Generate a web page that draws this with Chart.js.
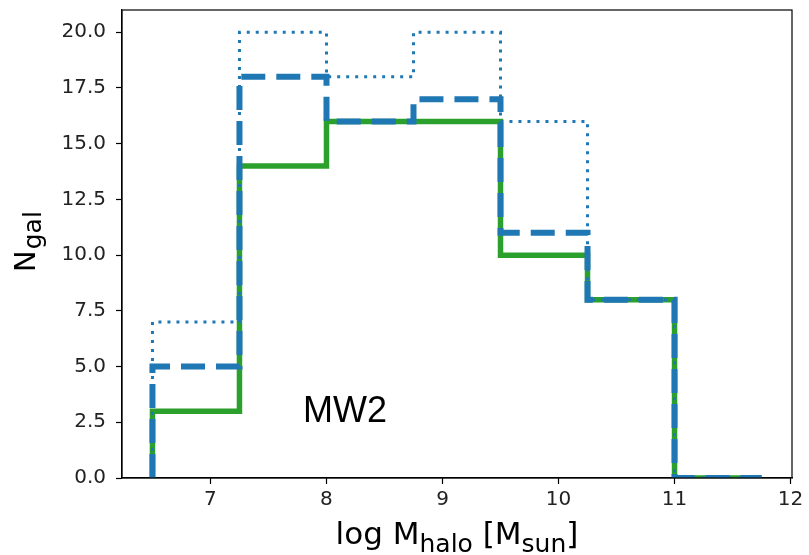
<!DOCTYPE html>
<html>
<head>
<meta charset="utf-8">
<script src="https://cdn.jsdelivr.net/npm/chart.js@4"></script>
<style>
  html, body { margin: 0; padding: 0; background: #fff; }
  #wrap { width: 809px; height: 555px; }
</style>
</head>
<body>
<div id="wrap"><canvas id="histChart" width="809" height="555"></canvas></div>
<script>
// bin edges of the histogram (log M_halo)
const binEdges = [6.5, 7.25, 8.0, 8.75, 9.5, 10.25, 11.0, 11.75];

// counts per bin
const solidCounts  = [3, 14, 16, 16, 10, 8, 0];
const dashedCounts = [5, 18, 16, 17, 11, 8, 0];
const dottedCounts = [7, 20, 18, 20, 16, 8, 0];

// axis ticks
const xTicks = [7, 8, 9, 10, 11, 12];
const yTicks = [0, 2.5, 5, 7.5, 10, 12.5, 15, 17.5, 20];

const panelLabel = 'MW2';

// turn bin edges + counts into a step outline like histtype='step'
function stepPoints(counts) {
    const pts = [{ x: binEdges[0], y: 0 }];
    counts.forEach((c, i) => {
        pts.push({ x: binEdges[i], y: c });
        pts.push({ x: binEdges[i + 1], y: c });
    });
    pts.push({ x: binEdges[binEdges.length - 1], y: 0 });
    return pts;
}

// frame + text labels (subscripts need manual drawing)
const extrasPlugin = {
    id: 'extras',
    afterDraw(chart) {
        const { ctx, chartArea } = chart;
        ctx.save();
        // full spine box
        ctx.strokeStyle = '#000';
        ctx.lineWidth = 1.2;
        ctx.strokeRect(chartArea.left, chartArea.top,
            chartArea.right - chartArea.left, chartArea.bottom - chartArea.top);

        ctx.fillStyle = '#000';
        ctx.textBaseline = 'alphabetic';
        ctx.textAlign = 'left';

        // panel label
        ctx.font = '36px "Liberation Sans", Arial, sans-serif';
        ctx.fillText(panelLabel, 303, 422);

        // x axis title: log M_halo [M_sun]
        const big = '31px "DejaVu Sans"';
        const small = '25px "DejaVu Sans"';
        const parts = [
            { t: 'log M', f: big, dy: 0 },
            { t: 'halo', f: small, dy: 8 },
            { t: ' [M', f: big, dy: 0 },
            { t: 'sun', f: small, dy: 8 },
            { t: ']', f: big, dy: 0 }
        ];
        let total = 0;
        parts.forEach(p => { ctx.font = p.f; total += ctx.measureText(p.t).width; });
        let x = (chartArea.left + chartArea.right) / 2 - total / 2;
        parts.forEach(p => {
            ctx.font = p.f;
            ctx.fillText(p.t, x, 544 + p.dy);
            x += ctx.measureText(p.t).width;
        });

        // y axis title: N_gal
        ctx.translate(35, 272);
        ctx.rotate(-Math.PI / 2);
        ctx.font = '29px "DejaVu Sans"';
        ctx.fillText('N', 0, 0);
        const nw = ctx.measureText('N').width;
        ctx.font = '25px "DejaVu Sans"';
        ctx.fillText('gal', nw + 1, 6);
        ctx.restore();
    }
};

const tickFont = { family: 'DejaVu Sans', size: 20 };

new Chart(document.getElementById('histChart').getContext('2d'), {
    type: 'scatter',
    data: {
        datasets: [
            {
                data: stepPoints(dottedCounts),
                borderColor: '#1f77b4',
                borderWidth: 3,
                borderDash: [3, 6],
                order: 1
            },
            {
                data: stepPoints(dashedCounts),
                borderColor: '#1f77b4',
                borderWidth: 6,
                borderDash: [24, 11],
                order: 2
            },
            {
                data: stepPoints(solidCounts),
                borderColor: '#2ca02c',
                borderWidth: 5.5,
                order: 3
            }
        ]
    },
    options: {
        responsive: false,
        animation: false,
        showLine: true,
        elements: {
            point: { radius: 0, hoverRadius: 0 },
            line: { tension: 0, fill: false, borderJoinStyle: 'miter' }
        },
        layout: { padding: { left: 0, top: 10, right: 17, bottom: 0 } },
        plugins: {
            legend: { display: false },
            tooltip: { enabled: false }
        },
        scales: {
            x: {
                type: 'linear',
                min: 6.2375,
                max: 12.0125,
                afterBuildTicks: (scale) => {
                    scale.ticks = xTicks.map(v => ({ value: v }));
                },
                afterFit: (scale) => {
                    scale.height = 77;
                    scale.paddingLeft = 0;
                    scale.paddingRight = 0;
                },
                grid: {
                    drawOnChartArea: false,
                    drawTicks: true,
                    tickLength: 6,
                    tickColor: '#000',
                    tickWidth: 1.2
                },
                border: { display: true, color: '#000', width: 1.2 },
                ticks: {
                    font: tickFont,
                    color: '#222',
                    padding: 4,
                    maxRotation: 0,
                    callback: (v) => String(v)
                }
            },
            y: {
                type: 'linear',
                min: 0,
                max: 21,
                afterBuildTicks: (scale) => {
                    scale.ticks = yTicks.map(v => ({ value: v }));
                },
                afterFit: (scale) => {
                    scale.width = 122;
                    scale.paddingTop = 0;
                    scale.paddingBottom = 0;
                },
                grid: {
                    drawOnChartArea: false,
                    drawTicks: true,
                    tickLength: 6,
                    tickColor: '#000',
                    tickWidth: 1.2
                },
                border: { display: true, color: '#000', width: 1.2 },
                ticks: {
                    font: tickFont,
                    color: '#222',
                    padding: 10,
                    callback: (v) => Number(v).toFixed(1)
                }
            }
        }
    },
    plugins: [extrasPlugin]
});
</script>
</body>
</html>
